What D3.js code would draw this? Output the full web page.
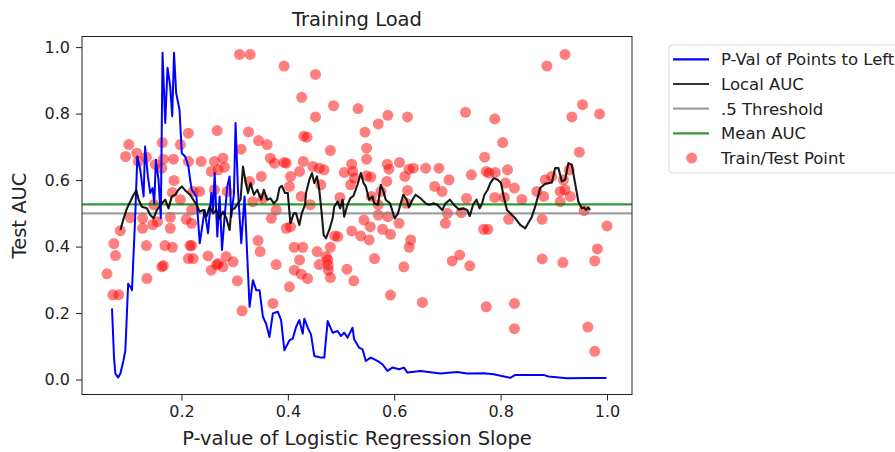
<!DOCTYPE html>
<html>
<head>
<meta charset="utf-8">
<script src="https://cdnjs.cloudflare.com/ajax/libs/d3/7.8.5/d3.min.js"></script>
<style>
body { margin: 0; background: #fff; }
svg { font-family: "DejaVu Sans", sans-serif; }
</style>
</head>
<body>
<svg width="895" height="452"></svg>
<script>
// Train/test points: [p-value of slope, test AUC]
var trainTestPoints = [
  [0.101,0.707],[0.095,0.671],[0.116,0.681],[0.119,0.656],[0.134,0.669],[0.164,0.713],[0.198,0.707],
  [0.213,0.741],[0.166,0.663],[0.185,0.663],[0.151,0.647],[0.163,0.636],[0.213,0.656],[0.186,0.599],
  [0.183,0.563],[0.198,0.541],[0.148,0.526],[0.104,0.487],[0.127,0.485],[0.127,0.455],[0.085,0.448],
  [0.146,0.466],[0.155,0.475],[0.179,0.488],[0.179,0.455],[0.209,0.482],[0.073,0.409],[0.076,0.373],
  [0.134,0.403],[0.169,0.403],[0.183,0.398],[0.216,0.403],[0.213,0.364],[0.060,0.318],[0.163,0.339],
  [0.166,0.343],[0.135,0.304],[0.071,0.255],[0.082,0.255],[0.309,0.978],[0.329,0.978],[0.393,0.943],
  [0.426,0.849],[0.267,0.749],[0.326,0.745],[0.345,0.719],[0.361,0.707],[0.312,0.693],[0.430,0.732],
  [0.237,0.656],[0.262,0.656],[0.278,0.666],[0.281,0.639],[0.256,0.626],[0.269,0.631],[0.367,0.666],
  [0.375,0.651],[0.393,0.653],[0.397,0.651],[0.429,0.656],[0.422,0.626],[0.405,0.611],[0.350,0.611],
  [0.328,0.596],[0.403,0.581],[0.425,0.551],[0.234,0.566],[0.222,0.566],[0.262,0.571],[0.286,0.566],
  [0.353,0.545],[0.334,0.535],[0.219,0.510],[0.369,0.485],[0.378,0.510],[0.397,0.455],[0.405,0.460],
  [0.219,0.470],[0.344,0.418],[0.348,0.385],[0.412,0.398],[0.428,0.398],[0.219,0.403],[0.222,0.364],
  [0.250,0.372],[0.266,0.345],[0.256,0.329],[0.284,0.370],[0.297,0.354],[0.278,0.339],[0.378,0.346],
  [0.422,0.360],[0.412,0.329],[0.425,0.317],[0.305,0.297],[0.403,0.279],[0.314,0.207],[0.372,0.229],
  [0.269,0.349],[0.452,0.918],[0.486,0.824],[0.452,0.790],[0.532,0.815],[0.588,0.795],[0.625,0.790],
  [0.570,0.769],[0.545,0.744],[0.436,0.729],[0.480,0.689],[0.548,0.696],[0.548,0.663],[0.447,0.641],
  [0.459,0.636],[0.468,0.631],[0.506,0.623],[0.520,0.648],[0.522,0.626],[0.525,0.606],[0.548,0.613],
  [0.556,0.609],[0.587,0.648],[0.590,0.633],[0.610,0.653],[0.620,0.611],[0.628,0.633],[0.586,0.596],
  [0.462,0.586],[0.518,0.586],[0.575,0.566],[0.625,0.569],[0.557,0.551],[0.498,0.548],[0.442,0.526],
  [0.570,0.526],[0.570,0.495],[0.588,0.490],[0.623,0.530],[0.543,0.480],[0.555,0.460],[0.537,0.432],
  [0.553,0.420],[0.488,0.432],[0.494,0.430],[0.520,0.447],[0.578,0.452],[0.593,0.437],[0.609,0.470],
  [0.631,0.420],[0.628,0.398],[0.480,0.398],[0.455,0.385],[0.472,0.370],[0.475,0.360],[0.459,0.346],
  [0.476,0.344],[0.476,0.329],[0.437,0.304],[0.480,0.307],[0.511,0.332],[0.524,0.297],[0.563,0.364],
  [0.618,0.339],[0.593,0.254],[0.734,0.804],[0.789,0.784],[0.804,0.713],[0.770,0.669],[0.636,0.636],
  [0.659,0.636],[0.684,0.636],[0.703,0.601],[0.676,0.581],[0.690,0.566],[0.745,0.616],[0.773,0.626],
  [0.778,0.621],[0.790,0.623],[0.813,0.631],[0.809,0.591],[0.826,0.576],[0.840,0.542],[0.736,0.545],
  [0.789,0.548],[0.807,0.548],[0.700,0.500],[0.726,0.502],[0.696,0.470],[0.815,0.482],[0.768,0.452],
  [0.776,0.452],[0.709,0.357],[0.723,0.375],[0.742,0.342],[0.653,0.232],[0.773,0.219],[0.826,0.229],
  [0.826,0.153],[0.887,0.943],[0.921,0.978],[0.954,0.827],[0.986,0.799],[0.934,0.790],[0.948,0.684],
  [0.884,0.601],[0.896,0.611],[0.918,0.601],[0.929,0.631],[0.868,0.566],[0.881,0.551],[0.912,0.566],
  [0.921,0.571],[0.931,0.551],[0.912,0.535],[0.878,0.482],[0.957,0.508],[1.000,0.462],[0.982,0.393],
  [0.977,0.357],[0.878,0.363],[0.917,0.352],[0.964,0.158],[0.977,0.085]
];

// P-value of points to the left
var pValCurve = [
  [0.0694,0.214],[0.0732,0.066],[0.0758,0.018],[0.081,0.006],[0.0852,0.018],[0.0908,0.056],[0.0945,0.088],
  [0.0998,0.288],[0.104,0.279],[0.107,0.269],[0.113,0.489],[0.117,0.671],[0.1226,0.631],[0.1288,0.551],
  [0.1316,0.701],[0.1369,0.611],[0.1414,0.561],[0.1457,0.576],[0.1489,0.530],[0.1519,0.661],[0.1569,0.601],
  [0.1612,0.485],[0.1644,0.983],[0.1695,0.772],[0.1738,0.938],[0.1788,0.882],[0.1826,0.792],[0.186,0.983],
  [0.190,0.862],[0.1963,0.812],[0.2006,0.681],[0.207,0.671],[0.2131,0.641],[0.2163,0.601],[0.2193,0.571],
  [0.2281,0.551],[0.2343,0.410],[0.2436,0.510],[0.250,0.440],[0.2562,0.561],[0.2594,0.510],[0.2624,0.621],
  [0.2674,0.430],[0.2717,0.551],[0.2762,0.390],[0.2811,0.490],[0.2862,0.581],[0.2905,0.611],[0.2937,0.490],
  [0.2987,0.561],[0.3017,0.772],[0.3062,0.571],[0.3124,0.410],[0.3186,0.551],[0.328,0.219],[0.3343,0.299],
  [0.3405,0.269],[0.3467,0.269],[0.3531,0.189],[0.3592,0.168],[0.3654,0.128],[0.3718,0.199],[0.3811,0.204],
  [0.3873,0.179],[0.3935,0.088],[0.4029,0.118],[0.4092,0.123],[0.4154,0.158],[0.4216,0.179],[0.428,0.138],
  [0.431,0.183],[0.4374,0.156],[0.4435,0.136],[0.4497,0.071],[0.4623,0.066],[0.4685,0.066],[0.4748,0.176],
  [0.4842,0.141],[0.4935,0.146],[0.4997,0.131],[0.5059,0.141],[0.5123,0.126],[0.5216,0.156],[0.5246,0.121],
  [0.534,0.096],[0.5404,0.091],[0.5466,0.056],[0.5559,0.066],[0.5685,0.056],[0.5778,0.046],[0.5872,0.026],
  [0.5966,0.036],[0.609,0.031],[0.6183,0.036],[0.6247,0.021],[0.6496,0.026],[0.6871,0.018],[0.7183,0.023],
  [0.737,0.018],[0.7682,0.019],[0.7869,0.016],[0.8182,0.005],[0.8276,0.014],[0.8806,0.014],[0.890,0.009],
  [0.9244,0.004],[0.968,0.005],[0.999,0.005]
];

// Local AUC (rolling)
var localAucCurve = [
  [0.0852,0.450],[0.0913,0.485],[0.0975,0.515],[0.110,0.556],[0.1151,0.569],[0.1194,0.541],[0.1256,0.520],
  [0.135,0.515],[0.1414,0.495],[0.1475,0.485],[0.1537,0.510],[0.1631,0.530],[0.1695,0.541],[0.1757,0.515],
  [0.1818,0.551],[0.1882,0.556],[0.1944,0.571],[0.2006,0.581],[0.207,0.569],[0.2163,0.556],[0.2225,0.540],
  [0.2281,0.526],[0.2343,0.505],[0.2407,0.510],[0.2468,0.490],[0.253,0.520],[0.2594,0.500],[0.2656,0.510],
  [0.2717,0.485],[0.2781,0.505],[0.2843,0.485],[0.2905,0.450],[0.2937,0.510],[0.2998,0.515],[0.3062,0.530],
  [0.3111,0.541],[0.3156,0.641],[0.3199,0.601],[0.325,0.561],[0.3298,0.591],[0.3362,0.556],[0.3424,0.571],
  [0.3499,0.541],[0.3549,0.571],[0.3611,0.541],[0.3673,0.545],[0.3737,0.530],[0.3798,0.541],[0.3842,0.576],
  [0.3887,0.583],[0.3948,0.561],[0.3999,0.561],[0.4048,0.470],[0.4111,0.500],[0.4154,0.500],[0.4216,0.465],
  [0.4261,0.500],[0.4323,0.526],[0.4342,0.561],[0.4404,0.601],[0.4454,0.621],[0.4497,0.591],[0.4548,0.611],
  [0.4591,0.571],[0.4636,0.500],[0.4673,0.435],[0.4716,0.425],[0.4778,0.450],[0.4842,0.485],[0.4872,0.520],
  [0.4936,0.535],[0.4984,0.515],[0.5029,0.541],[0.5059,0.490],[0.511,0.520],[0.5172,0.545],[0.5235,0.553],
  [0.531,0.586],[0.5372,0.621],[0.5423,0.591],[0.5466,0.581],[0.5528,0.541],[0.5591,0.551],[0.5621,0.530],
  [0.5696,0.526],[0.5747,0.586],[0.5797,0.566],[0.584,0.541],[0.5921,0.530],[0.6009,0.485],[0.6071,0.500],
  [0.6121,0.530],[0.6172,0.556],[0.6234,0.541],[0.6277,0.518],[0.6341,0.541],[0.6402,0.556],[0.6496,0.545],
  [0.659,0.530],[0.6651,0.526],[0.6745,0.530],[0.6809,0.526],[0.6903,0.510],[0.6965,0.530],[0.7045,0.541],
  [0.712,0.526],[0.7213,0.512],[0.7307,0.515],[0.7371,0.510],[0.742,0.492],[0.7483,0.526],[0.7545,0.541],
  [0.7607,0.515],[0.7652,0.530],[0.7695,0.556],[0.7757,0.571],[0.7807,0.591],[0.7869,0.606],[0.7944,0.601],
  [0.8008,0.591],[0.8057,0.551],[0.812,0.510],[0.8182,0.500],[0.8276,0.485],[0.8369,0.465],[0.8463,0.455],
  [0.8588,0.490],[0.865,0.520],[0.8744,0.576],[0.8838,0.589],[0.8963,0.593],[0.9025,0.636],[0.9087,0.636],
  [0.9151,0.596],[0.9213,0.601],[0.9274,0.651],[0.9338,0.646],[0.940,0.591],[0.9462,0.535],[0.9526,0.515],
  [0.9568,0.518],[0.9606,0.510],[0.9649,0.518],[0.968,0.510]
];

var threshold = 0.5;
var meanAuc = 0.527;

var xTicks = [0.2, 0.4, 0.6, 0.8, 1.0];
var yTicks = [0.0, 0.2, 0.4, 0.6, 0.8, 1.0];

var legendLabels = ["P-Val of Points to Left", "Local AUC", ".5 Threshold", "Mean AUC", "Train/Test Point"];

// Main svg
var svg = d3.select("svg");
var plot = { left: 82, right: 632, top: 36.5, bottom: 394.5 };

// matplotlib style 5% padding around data
function padded(vals) {
  var ext = d3.extent(vals);
  var pad = (ext[1] - ext[0]) * 0.05;
  return [ext[0] - pad, ext[1] + pad];
}
var allX = trainTestPoints.map(d => d[0]).concat(pValCurve.map(d => d[0]));
var allY = trainTestPoints.map(d => d[1]).concat(pValCurve.map(d => d[1]));

var x = d3.scaleLinear().domain(padded(allX)).range([plot.left, plot.right]);
var y = d3.scaleLinear().domain(padded(allY)).range([plot.bottom, plot.top]);

svg.append("defs").append("clipPath").attr("id", "clip")
  .append("rect")
  .attr("x", plot.left).attr("y", plot.top)
  .attr("width", plot.right - plot.left).attr("height", plot.bottom - plot.top);

var inner = svg.append("g").attr("clip-path", "url(#clip)");

// Scatter
inner.append("g")
  .selectAll("circle")
  .data(trainTestPoints)
  .enter().append("circle")
  .attr("cx", d => x(d[0]))
  .attr("cy", d => y(d[1]))
  .attr("r", 5.5)
  .attr("fill", "red")
  .attr("fill-opacity", 0.5);

var line = d3.line().x(d => x(d[0])).y(d => y(d[1]));

// Horizontal reference lines
inner.append("line")
  .attr("x1", plot.left).attr("x2", plot.right)
  .attr("y1", y(threshold)).attr("y2", y(threshold))
  .attr("stroke", "gray").attr("stroke-opacity", 0.75).attr("stroke-width", 2.2);

inner.append("line")
  .attr("x1", plot.left).attr("x2", plot.right)
  .attr("y1", y(meanAuc)).attr("y2", y(meanAuc))
  .attr("stroke", "green").attr("stroke-opacity", 0.8).attr("stroke-width", 2.2);

inner.append("path")
  .datum(pValCurve)
  .attr("d", line)
  .attr("fill", "none")
  .attr("stroke", "blue")
  .attr("stroke-width", 2)
  .attr("stroke-linejoin", "round");

inner.append("path")
  .datum(localAucCurve)
  .attr("d", line)
  .attr("fill", "none")
  .attr("stroke", "black")
  .attr("stroke-opacity", 0.9)
  .attr("stroke-width", 2.1)
  .attr("stroke-linejoin", "round");

// Axes
var xAxis = svg.append("g")
  .attr("transform", `translate(0,${plot.bottom})`)
  .call(d3.axisBottom(x).tickValues(xTicks).tickFormat(d3.format(".1f")).tickSize(6).tickPadding(5).tickSizeOuter(0));

var yAxis = svg.append("g")
  .attr("transform", `translate(${plot.left},0)`)
  .call(d3.axisLeft(y).tickValues(yTicks).tickFormat(d3.format(".1f")).tickSize(6).tickPadding(6).tickSizeOuter(0));

[xAxis, yAxis].forEach(function(a) {
  a.select(".domain").remove();
  a.selectAll("text").attr("font-size", "16px").attr("fill", "#222").attr("font-family", "DejaVu Sans");
  a.selectAll("line").attr("stroke", "#222");
});

// Frame
svg.append("rect")
  .attr("x", plot.left).attr("y", plot.top)
  .attr("width", plot.right - plot.left).attr("height", plot.bottom - plot.top)
  .attr("fill", "none").attr("stroke", "#222").attr("stroke-width", 1);

// Titles
svg.append("text")
  .attr("x", (plot.left + plot.right) / 2).attr("y", 26)
  .attr("text-anchor", "middle").attr("font-size", "19.5px").attr("fill", "#222")
  .text("Training Load");

svg.append("text")
  .attr("x", (plot.left + plot.right) / 2).attr("y", 445)
  .attr("text-anchor", "middle").attr("font-size", "19.5px").attr("fill", "#222")
  .text("P-value of Logistic Regression Slope");

svg.append("text")
  .attr("transform", `translate(26,${(plot.top + plot.bottom) / 2}) rotate(-90)`)
  .attr("text-anchor", "middle").attr("font-size", "19.5px").attr("fill", "#222")
  .text("Test AUC");

// Legend
var legend = svg.append("g").attr("transform", "translate(669,45)");
legend.append("rect")
  .attr("width", 260).attr("height", 128).attr("rx", 3)
  .attr("fill", "white").attr("stroke", "#d6d6d6");

var legendStyles = [
  { color: "blue", opacity: 1 },
  { color: "black", opacity: 0.8 },
  { color: "gray", opacity: 0.75 },
  { color: "green", opacity: 0.8 },
  { color: "red", opacity: 0.5, dot: true }
];

var rows = legend.selectAll(".row")
  .data(legendLabels)
  .enter().append("g")
  .attr("class", "row")
  .attr("transform", (d, i) => `translate(0,${14.3 + i * 24.7})`);

rows.each(function(d, i) {
  var g = d3.select(this);
  var s = legendStyles[i];
  if (s.dot) {
    g.append("circle").attr("cx", 22.7).attr("cy", 0).attr("r", 5.5)
      .attr("fill", s.color).attr("fill-opacity", s.opacity);
  } else {
    g.append("line").attr("x1", 4).attr("x2", 40).attr("y1", 0).attr("y2", 0)
      .attr("stroke", s.color).attr("stroke-opacity", s.opacity).attr("stroke-width", 2.2);
  }
  g.append("text").attr("x", 52).attr("y", 0).attr("dy", "0.36em")
    .attr("font-size", "16.5px").attr("fill", "#222").text(d);
});
</script>
</body>
</html>
